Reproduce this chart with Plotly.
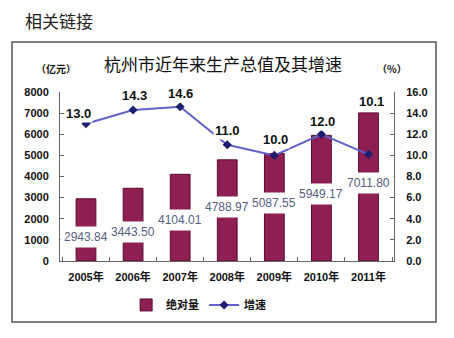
import plotly.graph_objects as go

years = ['2005年', '2006年', '2007年', '2008年', '2009年', '2010年', '2011年']
gdp = [2943.84, 3443.50, 4104.01, 4788.97, 5087.55, 5949.17, 7011.80]
growth = [13.0, 14.3, 14.6, 11.0, 10.0, 12.0, 10.1]
gdp_ticks = [0, 1000, 2000, 3000, 4000, 5000, 6000, 7000, 8000]
growth_ticks = [0, 2, 4, 6, 8, 10, 12, 14, 16]

NUM_FONT = "Liberation Sans, Arial, Noto Sans CJK SC"
CJK_FONT = "Noto Sans CJK SC, Liberation Sans"

fig = go.Figure()
fig.add_trace(go.Bar(
    x=years, y=gdp, name='绝对量',
    marker=dict(color='#8E1F52', line=dict(color='#5C0A30', width=1)),
    yaxis='y'))
fig.add_trace(go.Scatter(
    x=years, y=growth, name='增速', mode='lines+markers',
    line=dict(color='#6262C8', width=2),
    marker=dict(symbol='diamond', size=7, color='#1E1E70'),
    yaxis='y2'))

annotations = []
# bar value labels (white boxes inside bars)
bar_shift = [-7, -7, -2, 3, 4, 4, 4]
for x, v, s in zip(years, gdp, bar_shift):
    annotations.append(dict(x=x, y=v / 2, xref='x', yref='y', yshift=s,
                            xanchor='center', yanchor='middle',
                            text=f"{v:.2f}", showarrow=False,
                            font=dict(family=NUM_FONT, size=12, color='#55607F'),
                            bgcolor='white', borderpad=3))
# growth labels
g_xshift = [-8, 1, 0, 0, 1, 1, 3]
g_yshift = [10, 14, 13, 14, 16, 13, 53]
for x, v, dx, dy in zip(years, growth, g_xshift, g_yshift):
    annotations.append(dict(x=x, y=v, xref='x', yref='y2', xshift=dx, yshift=dy,
                            xanchor='center', yanchor='middle',
                            text=f"{v:.1f}", showarrow=False,
                            font=dict(family=NUM_FONT, size=13, color='#111111', weight='bold'),
                            bgcolor='white', borderpad=1))
# title and unit labels
annotations += [
    dict(x=0.488, y=1.166, xref='paper', yref='paper', text='杭州市近年来生产总值及其增速',
         xanchor='center', yanchor='middle',
         showarrow=False, font=dict(family=CJK_FONT, size=17, color='#111111')),
    dict(x=-0.012, y=1.142, xref='paper', yref='paper', text='（亿元）',
         xanchor='center', yanchor='middle',
         showarrow=False, font=dict(family=CJK_FONT, size=10, color='#111111', weight='bold')),
    dict(x=0.994, y=1.142, xref='paper', yref='paper', text='（%）',
         xanchor='center', yanchor='middle',
         showarrow=False, font=dict(family=CJK_FONT, size=10, color='#111111', weight='bold')),
    dict(x=-0.111, y=1.426, xref='paper', yref='paper', text='相关链接',
         xanchor='left', yanchor='middle',
         showarrow=False, font=dict(family=CJK_FONT, size=17, color='#222222')),
]

axis_font = dict(family=NUM_FONT, size=11, color='#111111', weight='bold')
fig.update_layout(
    width=454, height=338,
    margin=dict(l=60, r=60, t=92, b=77),
    paper_bgcolor='white', plot_bgcolor='white',
    bargap=0.58,
    showlegend=True,
    legend=dict(orientation='h', x=0.415, xanchor='center', y=-0.26, yanchor='middle',
                font=dict(family=CJK_FONT, size=11, color='#111111', weight='bold'),
                itemwidth=30, tracegroupgap=0, bgcolor='rgba(0,0,0,0)'),
    xaxis=dict(showline=True, linecolor='#666666', linewidth=1, ticks='inside',
               tickson='boundaries', ticklen=4, tickcolor='#666666',
               tickfont=dict(family=NUM_FONT, size=11, color='#111111', weight='bold'),
               ticklabelstandoff=6, showgrid=False),
    yaxis=dict(range=[0, 8000], tickvals=gdp_ticks, showline=True, linecolor='#666666',
               linewidth=1, ticks='inside', ticklen=4, tickcolor='#666666',
               tickfont=axis_font, showgrid=False, zeroline=False, ticklabelstandoff=8),
    yaxis2=dict(range=[0, 16], tickvals=growth_ticks, tickformat='.1f', overlaying='y',
                side='right', showline=True, linecolor='#666666', linewidth=1,
                ticks='inside', ticklen=4, tickcolor='#666666', tickfont=axis_font,
                showgrid=False, zeroline=False, ticklabelstandoff=9),
    annotations=annotations,
    shapes=[dict(type='rect', xref='paper', yref='paper', x0=-0.1437, x1=1.1257,
                 y0=-0.361, y1=1.296, line=dict(color='#555555', width=1.5),
                 fillcolor='rgba(0,0,0,0)', layer='below')],
)

fig.write_html("out.html")
